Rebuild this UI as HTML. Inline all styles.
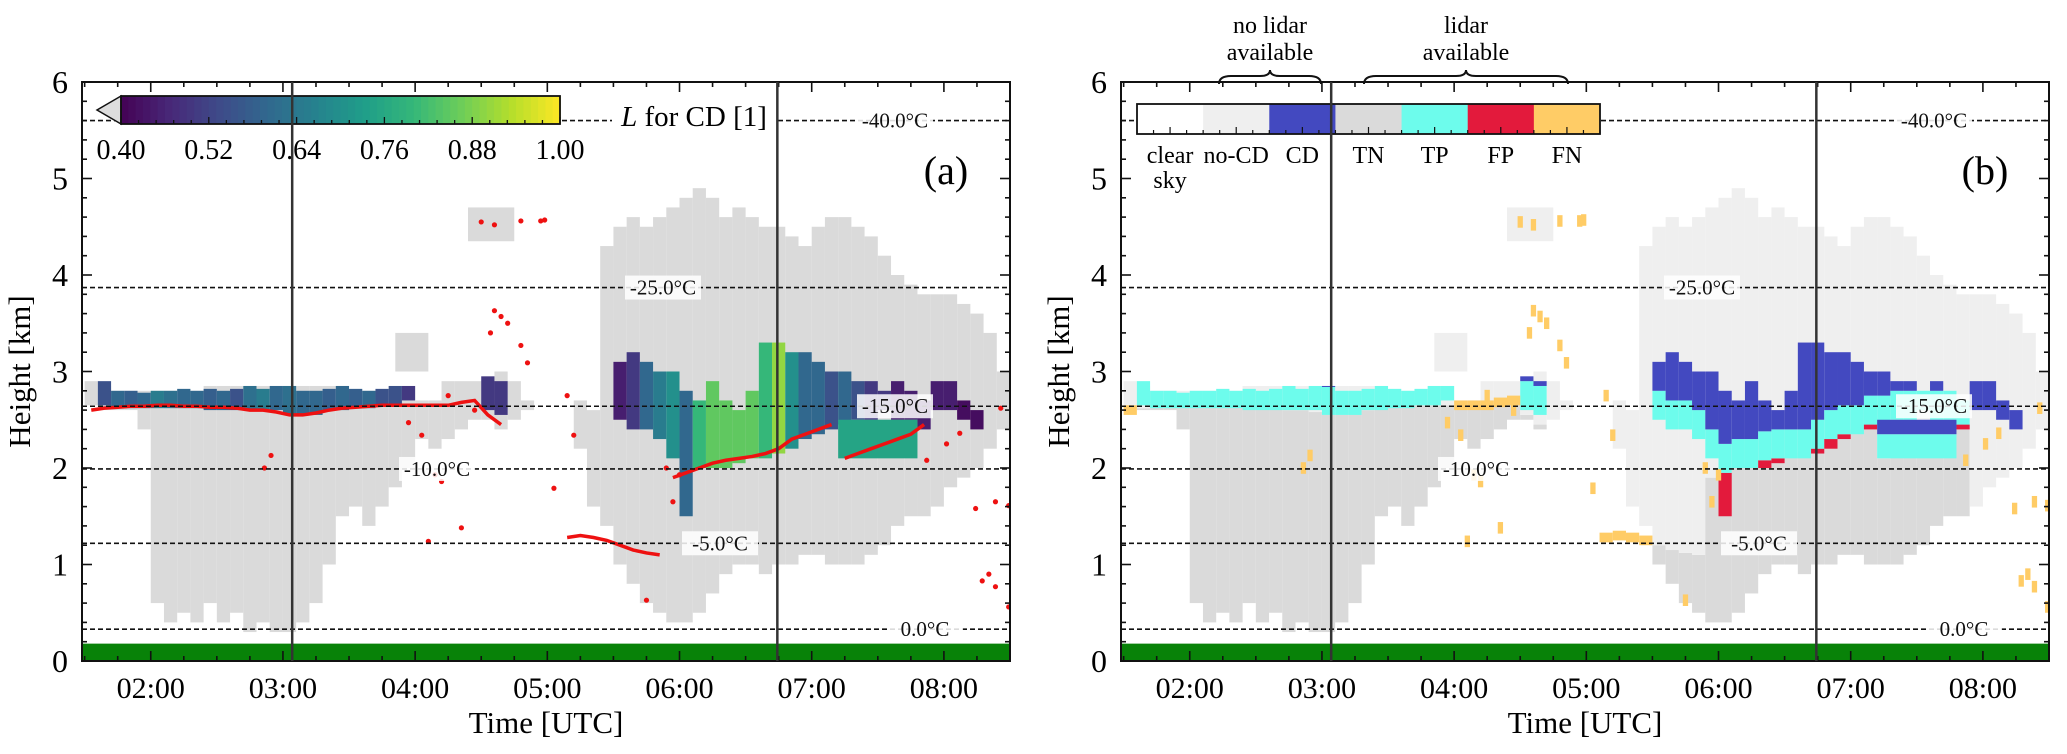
<!DOCTYPE html>
<html><head><meta charset="utf-8"><title>Cloud detection panels</title>
<style>
html,body{margin:0;padding:0;background:#fff;}
svg{display:block;font-family:"Liberation Serif",serif;}
</style></head>
<body>
<svg id="fig" width="2067" height="754" viewBox="0 0 2067 754" xmlns="http://www.w3.org/2000/svg"></svg>
<script>
// ---- data (per 0.1 h column starting at t=1.5 h) ----
const colStart = 1.5;
const colStep = 0.1;
const grayBot = [2.65,2.6,2.6,2.6,2.4,0.6,0.4,0.5,0.4,0.6,0.4,0.5,0.3,0.4,0.3,0.3,0.4,0.6,1.0,1.5,1.6,1.4,1.6,1.8,2.0,2.3,2.2,2.3,2.4,2.5,2.5,2.4,2.5,2.6,null,null,null,2.2,1.6,1.4,1.0,0.8,0.6,0.5,0.4,0.4,0.5,0.7,0.9,1.0,1.0,0.9,1.0,1.0,1.1,1.1,1.0,1.0,1.0,1.1,1.2,1.4,1.5,1.5,1.6,1.8,1.9,2.0,2.2,2.4];
const grayTop = [2.9,2.85,2.8,2.8,2.8,2.8,2.8,2.8,2.8,2.85,2.85,2.85,2.85,2.85,2.85,2.85,2.85,2.85,2.85,2.85,2.8,2.8,2.8,2.85,2.85,2.7,2.7,2.9,2.9,2.9,2.9,3.0,2.9,2.7,null,null,null,2.7,2.6,4.3,4.5,4.6,4.5,4.6,4.7,4.8,4.9,4.8,4.6,4.7,4.6,4.5,4.5,4.4,4.3,4.5,4.6,4.6,4.5,4.4,4.2,4.0,3.9,3.8,3.8,3.8,3.7,3.6,3.4,3.0];
const cdBot = [null,2.65,2.62,2.62,2.62,2.62,2.62,2.62,2.62,2.6,2.6,2.6,2.6,2.6,2.6,2.55,2.55,2.55,2.6,2.6,2.62,2.62,2.65,2.65,2.7,null,null,null,null,null,2.6,2.55,null,null,null,null,null,null,null,null,2.5,2.4,2.4,2.3,2.1,1.5,2.0,2.0,2.0,2.05,2.1,2.1,2.15,2.2,2.3,2.35,2.4,2.45,2.5,2.5,2.6,2.5,2.5,2.4,2.6,2.6,2.5,2.4,null,null];
const cdTop = [null,2.9,2.8,2.8,2.78,2.8,2.8,2.82,2.8,2.82,2.8,2.82,2.85,2.82,2.85,2.85,2.8,2.8,2.82,2.85,2.82,2.8,2.82,2.85,2.85,null,null,null,null,null,2.95,2.9,null,null,null,null,null,null,null,null,3.1,3.2,3.1,3.0,3.0,2.8,2.7,2.9,2.7,2.6,2.8,3.3,3.3,3.2,3.2,3.1,3.0,3.0,2.9,2.9,2.8,2.9,2.8,2.7,2.9,2.9,2.7,2.6,null,null];
const cdL = [null,0.55,0.6,0.58,0.6,0.65,0.62,0.6,0.6,0.58,0.6,0.55,0.62,0.65,0.6,0.62,0.6,0.6,0.58,0.6,0.58,0.6,0.55,0.55,0.5,null,null,null,null,null,0.5,0.5,null,null,null,null,null,null,null,null,0.45,0.5,0.6,0.65,0.7,0.6,0.8,0.85,0.85,0.85,0.85,0.8,0.9,0.7,0.6,0.6,0.55,0.6,0.55,0.5,0.5,0.45,0.45,0.45,0.45,0.45,0.42,0.42,null,null];
const lidarBase = [2.6,2.62,2.63,2.64,2.64,2.65,2.65,2.64,2.64,2.63,2.63,2.62,2.6,2.6,2.58,2.55,2.55,2.57,2.6,2.62,2.63,2.64,2.65,2.65,2.65,2.65,2.65,2.65,2.68,2.7,2.55,2.45,null,null,null,null,1.28,1.3,1.28,1.25,1.2,1.15,1.12,1.1,1.9,1.95,2.0,2.05,2.08,2.1,2.12,2.15,2.2,2.3,2.35,2.4,2.45,2.1,2.15,2.2,2.25,2.3,2.35,2.45,null,null,null,null,null,null];
// secondary layers: [tStart, tEnd, hBot, hTop]
const gray2 = [[3.85,4.1,3.0,3.4],[4.4,4.75,4.35,4.7]];
const cd2 = [[7.2,7.8,2.1,2.5,0.75]];
// scattered lidar detections (time h, height km)
const dotT = [2.86,2.91,3.95,4.05,4.25,4.45,4.5,4.6,4.8,4.95,4.98,4.6,4.65,4.7,4.8,4.85,4.57,4.15,4.2,5.05,4.35,4.1,5.15,5.2,5.75,5.95,6.0,5.9,7.87,8.02,8.12,8.43,8.24,8.39,8.49,8.29,8.39,8.49,8.34];
const dotH = [2.0,2.13,2.47,2.34,2.75,2.6,4.55,4.52,4.56,4.56,4.57,3.63,3.57,3.5,3.27,3.09,3.4,1.93,1.86,1.79,1.38,1.24,2.75,2.34,0.63,1.65,1.93,2.0,2.08,2.25,2.36,2.62,1.58,1.65,1.61,0.83,0.77,0.56,0.9];
const isotherm = [0.33,1.22,1.99,2.64,3.87,5.6];
const isoLabel = ["0.0°C","-5.0°C","-10.0°C","-15.0°C","-25.0°C","-40.0°C"];
const isoOffset = [843,638,355,813,581,813];
const vLines = [3.07,6.74];
const xTickLabels = ["02:00","03:00","04:00","05:00","06:00","07:00","08:00"];
const xTickVals = [2,3,4,5,6,7,8];
const yTickVals = [0,1,2,3,4,5,6];
const cbTicks = ["0.40","0.52","0.64","0.76","0.88","1.00"];
const legendLabels = ["clear","no-CD","CD","TN","TP","FP","FN"];
const legendColors = ["#ffffff","#efefef","#4349c0","#dadada","#6dfcec","#e31a3c","#ffcc66"];

// ---- geometry ----
const T0 = 1.48, T1 = 8.5, AX_W = 928, Y0 = 661, Y1 = 82;
const NS = "http://www.w3.org/2000/svg";
const svg = document.getElementById('fig');
function mk(tag, attrs, parent){
  const e = document.createElementNS(NS, tag);
  for (const k in attrs) e.setAttribute(k, attrs[k]);
  (parent||svg).appendChild(e); return e;
}
function viridis(v){
  const s=[[68,1,84],[72,40,120],[62,74,137],[49,104,142],[38,130,142],[31,158,137],[53,183,121],[110,206,88],[181,222,43],[253,231,37]];
  let f=Math.max(0,Math.min(1,(v-0.4)/0.6))*(s.length-1); const i=Math.min(s.length-2,Math.floor(f)); f-=i;
  const c=s[i].map((a,k)=>Math.round(a+(s[i+1][k]-a)*f)); return `rgb(${c[0]},${c[1]},${c[2]})`;
}

function panel(ox, mode){
  const X = t => ox + (t - T0) / (T1 - T0) * AX_W;
  const Y = h => Y0 - h / 6 * (Y0 - Y1);
  const g = mk('g', {});  
  const cid = 'clip'+mode;
  const cp = mk('clipPath', {id:cid}, g); mk('rect',{x:ox,y:Y1,width:AX_W,height:Y0-Y1},cp);
  const plot = mk('g', {'clip-path':`url(#${cid})`}, g);
   
  function rect(t0,t1,h0,h1,fill,name){
    const r = mk('rect',{x:X(t0),y:Y(h1),width:Math.max(1,X(t1)-X(t0)),height:Math.max(1,Y(h0)-Y(h1)),fill:fill},plot);
     
  }
  // gray
  for (let i=0;i<grayBot.length;i++){
    if (grayBot[i]==null) continue;
    const t0=colStart+i*colStep, t1=t0+colStep, lb=lidarBase[i];
    if (mode==='a') rect(t0,t1,grayBot[i],grayTop[i],'#dadada','gray-cell');
    else {
      if (lb!=null && lb>grayBot[i]) { rect(t0,t1,grayBot[i],Math.min(lb,grayTop[i]),'#dadada','tn-cell'); if (grayTop[i]>lb) rect(t0,t1,lb,grayTop[i],'#efefef','nocd-cell'); }
      else rect(t0,t1,grayBot[i],grayTop[i],'#efefef','nocd-cell');
    }
  }
  gray2.forEach(p=>rect(p[0],p[1],p[2],p[3],mode==='a'?'#dadada':'#efefef','gray-patch'));
  // CD
  for (let i=0;i<cdBot.length;i++){
    if (cdBot[i]==null) continue;
    const t0=colStart+i*colStep, t1=t0+colStep, lb=lidarBase[i];
    if (mode==='a') rect(t0,t1,cdBot[i],cdTop[i],viridis(cdL[i]),'cd-cell');
    else {
      let b=cdBot[i];
      if (lb!=null){
        if (b<lb-0.05){ rect(t0,t1,b,lb,'#e31a3c','fp-cell'); b=lb; }
        const tp=Math.min(cdTop[i], b+0.3);
        rect(t0,t1,b,tp,'#6dfcec','tp-cell');
        if (cdTop[i]>tp) rect(t0,t1,tp,cdTop[i],'#4349c0','cd-cell');
      } else rect(t0,t1,b,cdTop[i],'#4349c0','cd-cell');
    }
  }
  cd2.forEach(p=>{ if(mode==='a') rect(p[0],p[1],p[2],p[3],viridis(p[4]),'cd-patch'); else { rect(p[0],p[1],p[2],p[2]+0.25,'#6dfcec','tp-patch'); rect(p[0],p[1],p[2]+0.25,p[3],'#4349c0','cd-patch'); } });
  // lidar
  if (mode==='a'){
    let seg=[], prev=null;
    const flush=()=>{ if(seg.length>1){ const pl=mk('polyline',{points:seg.join(' '),fill:'none',stroke:'#ee1111','stroke-width':3.5},plot);   } seg=[]; };
    for (let i=0;i<lidarBase.length;i++){
      if(lidarBase[i]==null){flush();prev=null;continue;}
      if(prev!=null && Math.abs(lidarBase[i]-prev)>0.25) flush();
      seg.push(X(colStart+(i+0.5)*colStep)+','+Y(lidarBase[i])); prev=lidarBase[i];
    }
    flush();
    for (let k=0;k<dotT.length;k++){ const c=mk('circle',{cx:X(dotT[k]),cy:Y(dotH[k]),r:2.6,fill:'#ee1111'},plot);   }
  } else {
    for (let i=0;i<lidarBase.length;i++){ if(lidarBase[i]==null||cdBot[i]!=null) continue; const t0=colStart+i*colStep; rect(t0,t0+colStep,lidarBase[i]-0.05,lidarBase[i]+0.05,'#ffcc66','fn-cell'); }
    for (let k=0;k<dotT.length;k++) rect(dotT[k]-0.02,dotT[k]+0.02,dotH[k]-0.06,dotH[k]+0.06,'#ffcc66','fn-cell');
  }
  // ground
  const gr = mk('rect',{x:ox,y:Y(0.18),width:AX_W,height:Y(0)-Y(0.18),fill:'#088208'},plot);
   
  // isotherms
  isotherm.forEach((h,k)=>{
    const l=mk('line',{x1:ox,x2:ox+AX_W,y1:Y(h),y2:Y(h),stroke:'#111','stroke-width':1.6,'stroke-dasharray':'5,3'},plot);
     
    const tx=ox+isoOffset[k];
    const bg=mk('rect',{x:tx-38,y:Y(h)-12,width:76,height:24,fill:'#fff','fill-opacity':0.85},plot);
     
    const t=mk('text',{x:tx,y:Y(h)+7,'font-size':21,'text-anchor':'middle',fill:'#111'},plot); t.textContent=isoLabel[k];
     
  });
  // axes frame & ticks
  const fr=mk('rect',{x:ox,y:Y1,width:AX_W,height:Y0-Y1,fill:'none',stroke:'#111','stroke-width':2},g);
   
  for (let m=Math.ceil(T0*4); m<=T1*4; m++){
    const x=X(m/4), L=(m%4===0)?10:5;
    mk('line',{x1:x,x2:x,y1:Y0,y2:Y0-L,stroke:'#111','stroke-width':1.6},g);
    mk('line',{x1:x,x2:x,y1:Y1,y2:Y1+L,stroke:'#111','stroke-width':1.6},g);
  }
  for (let m=0;m<=30;m++){
    const y=Y(m/5), L=(m%5===0)?10:5;
    mk('line',{x1:ox,x2:ox+L,y1:y,y2:y,stroke:'#111','stroke-width':1.6},g);
    mk('line',{x1:ox+AX_W,x2:ox+AX_W-L,y1:y,y2:y,stroke:'#111','stroke-width':1.6},g);
  }
  xTickVals.forEach((v,k)=>{ const t=mk('text',{x:X(v),y:698,'font-size':30,'text-anchor':'middle'},g); t.textContent=xTickLabels[k];   });
  yTickVals.forEach(v=>{ const t=mk('text',{x:ox-14,y:Y(v)+11,'font-size':32,'text-anchor':'end'},g); t.textContent=String(v);   });
  const xt=mk('text',{x:ox+AX_W/2,y:733,'font-size':31,'text-anchor':'middle'},g); xt.textContent='Time [UTC]';
   
  const yt=mk('text',{x:0,y:0,'font-size':31,'text-anchor':'middle',transform:`translate(${ox-52},${(Y0+Y1)/2}) rotate(-90)`},g); yt.textContent='Height [km]';
   
  const pl=mk('text',{x:ox+864,y:184,'font-size':40,'text-anchor':'middle'},g); pl.textContent=mode==='a'?'(a)':'(b)';
   
  return {X,Y,g};
}

const A = panel(82,'a');
const B = panel(1121,'b');

// colorbar (a)
(function(){
  const g=mk('g',{});  
  const x0=121,x1=560,y0=96,y1=124;
  const N=60;
  for(let i=0;i<N;i++){ mk('rect',{x:x0+(x1-x0)*i/N,y:y0,width:(x1-x0)/N+0.8,height:y1-y0,fill:viridis(0.4+0.6*(i+0.5)/N)},g); }
  const ext=mk('polygon',{points:`${x0},${y0} ${x0},${y1} 97,${(y0+y1)/2}`,fill:'#dddddd',stroke:'#111','stroke-width':1.5},g);
   
  mk('rect',{x:x0,y:y0,width:x1-x0,height:y1-y0,fill:'none',stroke:'#111','stroke-width':1.8},g);
  for(let i=0;i<=25;i++){ const x=x0+(x1-x0)*i/25; mk('line',{x1:x,x2:x,y1:y1,y2:y1-((i%5===0)?7:4),stroke:'#111','stroke-width':1.3},g); }
  cbTicks.forEach((s,k)=>{ const t=mk('text',{x:x0+(x1-x0)*k/5,y:159,'font-size':28,'text-anchor':'middle'},g); t.textContent=s;   });
  const lb=mk('rect',{x:612,y:96,width:164,height:40,fill:'#fff'},g);
   
  const t=mk('text',{x:694,y:126,'font-size':29,'text-anchor':'middle'},g);
  t.innerHTML='<tspan font-style="italic">L</tspan> for CD [1]';
   
})();

// category legend (b)
(function(){
  const g=mk('g',{});  
  const x0=1137,x1=1600,y0=104,y1=134,w=(x1-x0)/legendColors.length;
  legendColors.forEach((c,k)=>{ const r=mk('rect',{x:x0+k*w,y:y0,width:w+0.5,height:y1-y0,fill:c},g);   });
  mk('rect',{x:x0,y:y0,width:x1-x0,height:y1-y0,fill:'none',stroke:'#111','stroke-width':1.8},g);
  for(let i=0;i<=28;i++){ const x=x0+(x1-x0)*i/28; mk('line',{x1:x,x2:x,y1:y1,y2:y1-((i%4===2)?7:4),stroke:'#111','stroke-width':1.2},g); }
  legendLabels.forEach((s,k)=>{ const t=mk('text',{x:x0+(k+0.5)*w,y:163,'font-size':24,'text-anchor':'middle'},g); t.textContent=s;   });
  const sky=mk('text',{x:x0+0.5*w,y:188,'font-size':24,'text-anchor':'middle'},g); sky.textContent='sky';
   
  function brace(xa,xb,y,name,l1,l2){
    const m=(xa+xb)/2;
    const p=mk('path',{d:`M${xa},${y+8} Q${xa},${y} ${xa+12},${y} L${m-10},${y} Q${m},${y} ${m},${y-6} Q${m},${y} ${m+10},${y} L${xb-12},${y} Q${xb},${y} ${xb},${y+8}`,fill:'none',stroke:'#111','stroke-width':2},g);
     
    const t1=mk('text',{x:m,y:33,'font-size':24,'text-anchor':'middle'},g); t1.textContent=l1;  
    const t2=mk('text',{x:m,y:60,'font-size':24,'text-anchor':'middle'},g); t2.textContent=l2;  
  }
  brace(1219,1321,76,'no-lidar','no lidar','available');
  brace(1364,1568,76,'lidar','lidar','available');
})();

// reference-time vertical lines drawn last so they pass through legend/colorbar
[[A,82],[B,1121]].forEach(([P])=>{
  vLines.forEach(v=>{ const l=mk('line',{x1:P.X(v),x2:P.X(v),y1:Y1,y2:Y0,stroke:'#333','stroke-width':2.5});
    
     });
});
</script>
</body></html>
